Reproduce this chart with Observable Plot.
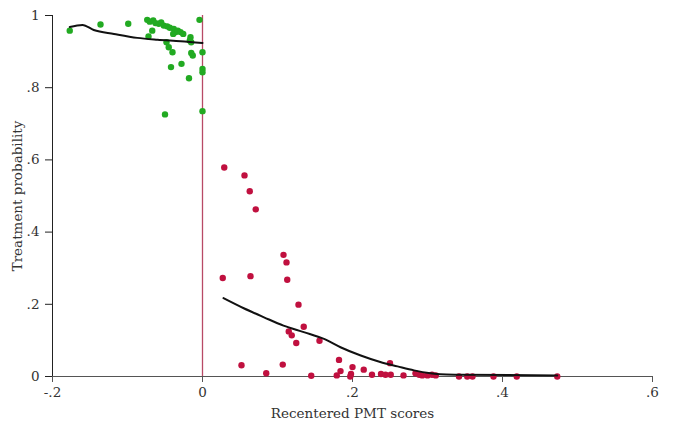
<!DOCTYPE html>
<html>
<head>
<meta charset="utf-8">
<script src="https://cdn.jsdelivr.net/npm/d3@7"></script>
<script src="https://cdn.jsdelivr.net/npm/@observablehq/plot@0.6"></script>
<style>
  html, body { margin: 0; padding: 0; background: #ffffff; }
  #chart svg { display: block; }
</style>
</head>
<body>
<div id="chart"></div>
<script>
// Eligible side (score below cutoff) — green points
const greenX = [-0.177, -0.136, -0.099, -0.0737, -0.0703, -0.0657, -0.0627, -0.0583, -0.0551, -0.0516,
  -0.0471, -0.0436, -0.0383, -0.0356, -0.0391, -0.0329, -0.0293, -0.0257, -0.016, -0.0169,
  -0.0151, -0.067, -0.072, -0.048, -0.045, -0.040, -0.015, -0.013, -0.004, 0.000,
  -0.028, -0.042, 0.000, 0.000, 0.000, -0.050, -0.018];
const greenY = [0.958, 0.975, 0.977, 0.988, 0.983, 0.986, 0.979, 0.977, 0.981, 0.972,
  0.970, 0.966, 0.963, 0.954, 0.949, 0.958, 0.954, 0.949, 0.940, 0.931,
  0.926, 0.958, 0.942, 0.926, 0.912, 0.898, 0.896, 0.889, 0.988, 0.898,
  0.866, 0.857, 0.852, 0.843, 0.735, 0.726, 0.826];

// Ineligible side (score above cutoff) — red points
const redX = [0.029, 0.056, 0.063, 0.071, 0.108, 0.112, 0.027, 0.064, 0.113, 0.128,
  0.135, 0.115, 0.119, 0.125, 0.156, 0.052, 0.107, 0.085, 0.145, 0.182,
  0.200, 0.215, 0.250, 0.184, 0.179, 0.198, 0.197, 0.226, 0.238, 0.244,
  0.251, 0.268, 0.284, 0.289, 0.293, 0.300, 0.306, 0.311, 0.342, 0.353,
  0.360, 0.388, 0.419, 0.473];
const redY = [0.579, 0.557, 0.513, 0.463, 0.337, 0.316, 0.273, 0.278, 0.268, 0.199,
  0.138, 0.125, 0.114, 0.093, 0.099, 0.031, 0.033, 0.009, 0.002, 0.046,
  0.026, 0.019, 0.037, 0.015, 0.003, 0.007, 0.000, 0.005, 0.007, 0.005,
  0.005, 0.003, 0.009, 0.005, 0.003, 0.003, 0.005, 0.003, 0.000, 0.000,
  0.000, 0.000, 0.000, 0.000];

// Local fit lines
const fitLeftX = [-0.177, -0.160, -0.145, -0.118, -0.087, -0.060, -0.029, 0.000];
const fitLeftY = [0.968, 0.974, 0.960, 0.949, 0.938, 0.933, 0.929, 0.924];
const fitRightX = [0.028, 0.055, 0.082, 0.108, 0.135, 0.162, 0.184, 0.211, 0.237, 0.260, 0.282, 0.304, 0.317, 0.344, 0.473];
const fitRightY = [0.217, 0.189, 0.164, 0.141, 0.123, 0.104, 0.081, 0.058, 0.040, 0.028, 0.017, 0.009, 0.006, 0.005, 0.003];

const xTicks = [-0.2, 0, 0.2, 0.4, 0.6];
const yTicks = [0, 0.2, 0.4, 0.6, 0.8, 1];
const xTitle = "Recentered PMT scores";
const yTitle = "Treatment probability";
const cutoff = 0;

const fmt = d => {
  const s = String(+d.toFixed(1));
  return s.replace(/^(-?)0\./, "$1.");
};

const green = greenX.map((x, i) => ({x, y: greenY[i]}));
const red = redX.map((x, i) => ({x, y: redY[i]}));
const fitL = fitLeftX.map((x, i) => ({x, y: fitLeftY[i]}));
const fitR = fitRightX.map((x, i) => ({x, y: fitRightY[i]}));

const chart = Plot.plot({
  width: 688,
  height: 436,
  marginLeft: 52,
  marginRight: 36,
  marginTop: 15,
  marginBottom: 60,
  style: {fontFamily: "'DejaVu Serif', serif", fontSize: "13px", color: "#333", background: "#ffffff"},
  x: {domain: [-0.2, 0.6]},
  y: {domain: [0, 1]},
  marks: [
    Plot.ruleY([0], {stroke: "#555", strokeWidth: 1}),
    Plot.ruleX([-0.2], {stroke: "#222", strokeWidth: 1}),
    Plot.ruleX([cutoff], {stroke: "#b84a66", strokeWidth: 1.3}),
    Plot.axisX({ticks: xTicks, tickFormat: fmt, tickSize: 6, tickPadding: 5, stroke: "#555",
      label: xTitle, labelAnchor: "center", labelArrow: "none", labelOffset: 41, fontSize: 13.5}),
    Plot.axisY({ticks: yTicks, tickFormat: fmt, tickSize: 7, tickPadding: 6, stroke: "#222",
      label: yTitle, labelAnchor: "center", labelArrow: "none", labelOffset: 40, fontSize: 13.5}),
    Plot.dot(green, {x: "x", y: "y", r: 3.2, fill: "#22aa22", stroke: "none"}),
    Plot.dot(red, {x: "x", y: "y", r: 3.2, fill: "#c0103f", stroke: "none"}),
    Plot.line(fitL, {x: "x", y: "y", stroke: "#111", strokeWidth: 2, curve: "monotone-x"}),
    Plot.line(fitR, {x: "x", y: "y", stroke: "#111", strokeWidth: 2, curve: "monotone-x"})
  ]
});
document.getElementById("chart").appendChild(chart);
</script>
</body>
</html>
